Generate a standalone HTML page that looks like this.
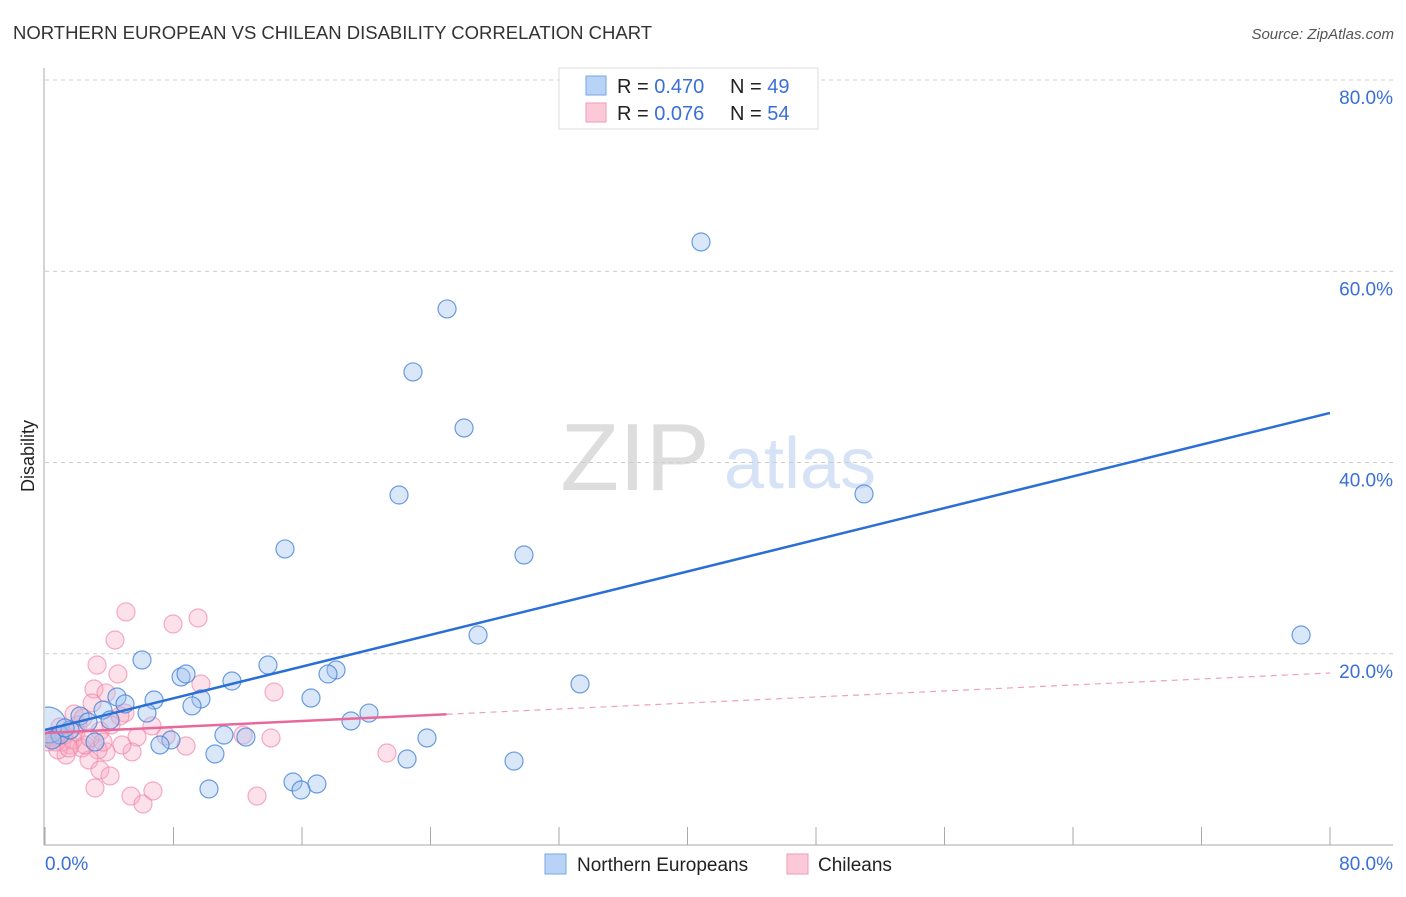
<!DOCTYPE html>
<html><head><meta charset="utf-8"><style>
body{margin:0;background:#fff;font-family:"Liberation Sans",sans-serif}
svg text{font-family:"Liberation Sans",sans-serif}
</style></head><body>
<svg id="chart" width="1406" height="892">
<defs><clipPath id="plotclip"><rect x="45" y="60" width="1360" height="800"/></clipPath></defs>
<text x="13" y="39" font-size="18.5" fill="#333">NORTHERN EUROPEAN VS CHILEAN DISABILITY CORRELATION CHART</text>
<text x="1394" y="39" font-size="15" fill="#555" font-style="italic" text-anchor="end">Source: ZipAtlas.com</text>
<text x="34" y="456" font-size="18" fill="#222" transform="rotate(-90 34 456)" text-anchor="middle">Disability</text>
<g>
<text x="635" y="490" font-size="96" fill="#ddd" font-family="Liberation Serif,serif" text-anchor="middle">ZIP</text>
<text x="800" y="488" font-size="72" fill="#d6e2f5" text-anchor="middle">atlas</text>
</g>
<g id="grid"></g><g id="axes"></g><g id="marks" clip-path="url(#plotclip)"></g>
<g>
<rect x="559" y="68" width="259" height="61" fill="#fff" stroke="#ddd"/>
<rect x="586" y="76" width="20" height="19" fill="#b8d3f5" stroke="#7aa6e6"/>
<rect x="586" y="103" width="20" height="19" fill="#fbc9d7" stroke="#f09ab5"/>
<text x="617" y="93" font-size="20" fill="#222">R = <tspan fill="#3a6fd8">0.470</tspan><tspan x="730">N = </tspan><tspan fill="#3a6fd8">49</tspan></text>
<text x="617" y="120" font-size="20" fill="#222">R = <tspan fill="#3a6fd8"> 0.076</tspan><tspan x="730">N = </tspan><tspan fill="#3a6fd8">54</tspan></text>
</g>
<g>
<rect x="545" y="854" width="21" height="20" fill="#b8d3f5" stroke="#7aa6e6"/>
<text x="577" y="871" font-size="19" fill="#222">Northern Europeans</text>
<rect x="787" y="854" width="21" height="20" fill="#fbc9d7" stroke="#f09ab5"/>
<text x="818" y="871" font-size="19" fill="#222">Chileans</text>
</g>
</svg>
<script>
const blueX=[40.84,25.03,22.91,26.09,22.04,50.99,14.94,29.82,26.96,78.20,33.31,6.04,13.88,18.12,17.62,8.47,8.78,11.64,6.79,16.56,9.71,4.48,9.15,4.98,6.35,3.61,2.18,4.05,20.17,19.05,11.14,12.51,7.84,7.16,23.78,10.58,3.11,22.54,29.20,15.44,16.93,15.94,10.21,0.19,0.93,1.56,2.68,0.44,1.25];
const blueY=[63.06,56.06,49.47,43.61,36.60,36.71,30.96,30.33,21.96,21.96,16.84,19.35,18.82,18.30,17.88,17.57,17.88,17.15,15.16,15.37,15.27,15.48,14.54,14.75,13.80,14.12,13.49,13.07,13.80,12.97,11.50,11.29,10.98,10.46,11.19,9.52,10.77,8.99,8.78,6.59,6.38,5.75,5.86,12.55,11.50,12.03,12.86,10.98,12.24];
const pinkX=[5.04,7.97,9.53,4.36,3.24,4.54,3.05,9.71,14.26,3.80,2.93,1.81,4.98,6.66,2.05,4.67,0.93,5.73,7.53,3.80,5.42,8.78,14.07,12.33,0.62,1.56,2.30,3.30,2.74,1.31,1.06,0.31,3.42,4.05,3.11,5.35,6.10,6.72,13.20,21.29,0.19,0.68,1.74,2.49,1.18,3.42,4.11,2.37,1.93,0.81,1.49,2.80,3.61,4.79];
const pinkY=[24.37,23.11,23.74,21.44,18.82,17.88,16.31,16.84,16.00,15.90,14.85,13.70,13.80,12.45,12.55,13.49,12.34,11.29,11.40,9.73,9.73,10.35,11.19,11.50,11.19,10.46,10.14,9.94,8.89,9.41,10.77,11.29,7.84,7.22,5.96,5.12,4.29,5.65,5.12,9.62,10.77,10.77,10.98,10.46,11.50,11.92,12.55,13.28,11.82,9.94,10.14,11.19,10.77,10.46];
const yTicks=[20,40,60,80];
const yTickLabels=["20.0%","40.0%","60.0%","80.0%"];
const blueTrend=[12.03,45.18];
const pinkTrend=[11.71,17.99];
const pinkSolidEnd=25;
const NS="http://www.w3.org/2000/svg";
const sx=v=>45+v/80*1285, sy=v=>845-v/80*765;
function mk(tag,attrs,parent){const e=document.createElementNS(NS,tag);for(const k in attrs)e.setAttribute(k,attrs[k]);document.getElementById(parent).appendChild(e);return e;}
yTicks.forEach((t,i)=>{
 const g=mk('line',{x1:45,x2:1393,y1:sy(t),y2:sy(t),stroke:'#ccc','stroke-dasharray':'4 4'},'grid');
 
 
 const l=mk('text',{x:1393,y:sy(t)+24,'font-size':19,fill:'#3a6fd8','text-anchor':'end'},'grid');
 l.textContent=yTickLabels[i];
 
 
});
const ax=mk('line',{x1:44,x2:44,y1:68,y2:845,stroke:'#aaa'},'axes');


const bx=mk('line',{x1:44,x2:1393,y1:845,y2:845,stroke:'#aaa'},'axes');


for(let i=0;i<=10;i++){const t=mk('line',{x1:sx(i*8),x2:sx(i*8),y1:827,y2:845,stroke:'#aaa'},'axes');
 
 }
const x0=mk('text',{x:45,y:870,'font-size':19,fill:'#3a6fd8'},'axes');x0.textContent='0.0%';


const x1=mk('text',{x:1393,y:870,'font-size':19,fill:'#3a6fd8','text-anchor':'end'},'axes');x1.textContent='80.0%';


pinkX.forEach((x,i)=>{const c=mk('circle',{cx:sx(x),cy:sy(pinkY[i]),r:9,fill:'rgba(248,170,195,0.35)',stroke:'rgba(240,130,165,0.65)','stroke-width':1.2},'marks');
 
 });
blueX.forEach((x,i)=>{const c=mk('circle',{cx:sx(x),cy:sy(blueY[i]),r:i===43?18:9,fill:'rgba(160,195,240,0.4)',stroke:'rgba(60,125,215,0.75)','stroke-width':1.2},'marks');
 
 });
const bt=mk('line',{x1:sx(0),y1:sy(blueTrend[0]),x2:sx(80),y2:sy(blueTrend[1]),stroke:'#2a6fd6','stroke-width':2.5},'marks');


const pm=pinkTrend[0]+(pinkTrend[1]-pinkTrend[0])*pinkSolidEnd/80;
const pt=mk('line',{x1:sx(0),y1:sy(pinkTrend[0]),x2:sx(pinkSolidEnd),y2:sy(pm),stroke:'#e8689a','stroke-width':2.5},'marks');


const pd=mk('line',{x1:sx(pinkSolidEnd),y1:sy(pm),x2:sx(80),y2:sy(pinkTrend[1]),stroke:'#eea0bb','stroke-width':1.2,'stroke-dasharray':'6 5'},'marks');


</script>
</body></html>
